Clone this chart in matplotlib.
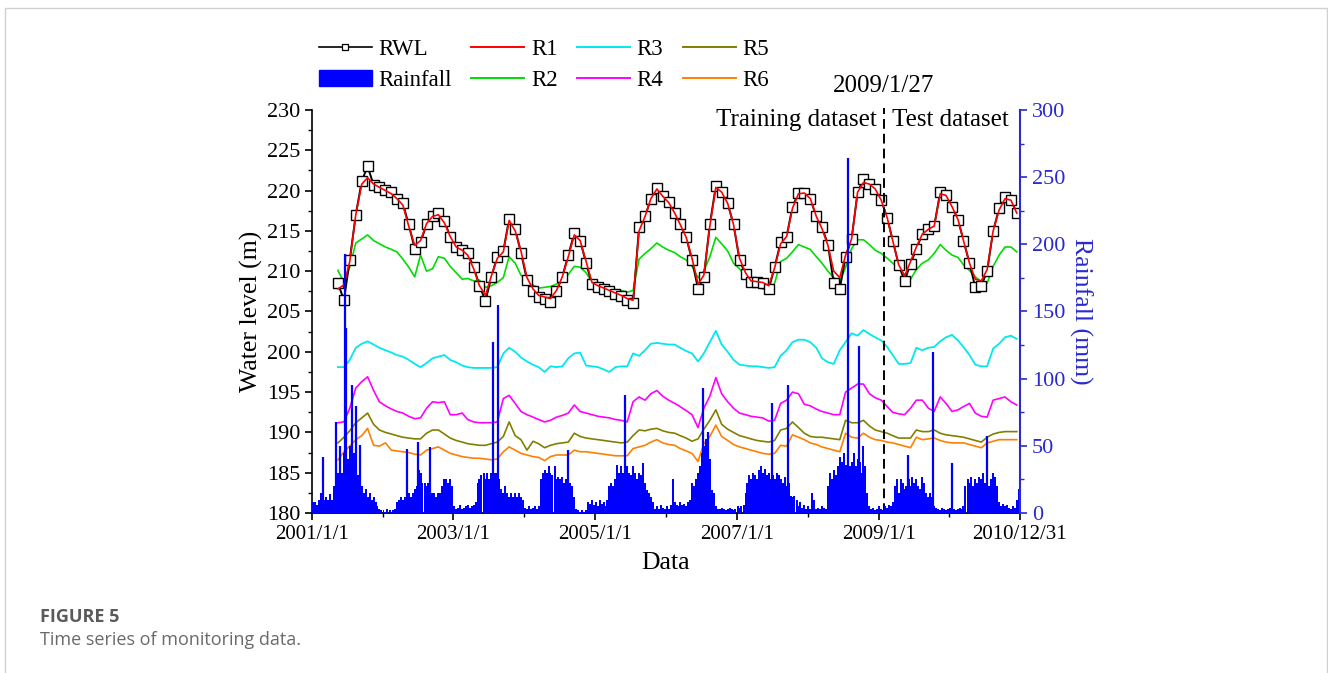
import numpy as np
import pandas as pd
import matplotlib
matplotlib.use("Agg")
import matplotlib.pyplot as plt
import matplotlib.dates as mdates
from matplotlib.ticker import MultipleLocator, FixedLocator
from matplotlib.lines import Line2D
from matplotlib.patches import Patch, Rectangle

# --- monthly water level series (May 2001 .. Dec 2010) ---
months = pd.date_range("2001-05-01", "2010-12-01", freq="MS") + pd.Timedelta(days=14)

rwl = [
    208.5, 206.4, 211.4, 217.0, 221.2, 223.0, 220.7, 220.4,
    220.1, 219.8, 219.0, 218.4, 215.8, 212.8, 213.6, 215.8, 216.9, 217.2, 216.2, 214.3,
    213.0, 212.6, 212.2, 210.5, 208.2, 206.3, 209.3, 211.8, 212.5, 216.5, 215.2, 212.3,
    208.9, 207.5, 206.8, 206.5, 206.2, 207.5, 209.3, 212.0, 214.7, 213.8, 211.0, 208.4,
    208.0, 207.8, 207.6, 207.2, 206.9, 206.4, 206.0, 215.5, 216.8, 219.0, 220.3, 219.3,
    218.6, 217.2, 215.8, 214.2, 211.4, 207.8, 209.3, 215.8, 220.6, 219.8, 218.4, 215.8,
    211.4, 209.6, 208.7, 208.7, 208.5, 207.8, 210.5, 213.6, 214.3, 218.0, 219.7, 219.7,
    219.0, 216.8, 215.5, 213.3, 208.5, 207.8, 211.8, 214.0, 219.8, 221.4, 220.8, 220.2,
    218.8, 216.6, 213.8, 210.8, 208.8, 210.9, 212.8, 214.6, 215.2, 215.6, 219.8, 219.4,
    218.0, 216.4, 213.8, 211.0, 208.0, 208.2, 210.0, 215.0, 217.8, 219.2, 218.8, 217.2,
]
r1 = [
    207.8, 208.3, 211.2, 217.0, 220.8, 221.6, 220.8, 220.4,
    220.0, 219.6, 219.0, 218.2, 215.6, 213.2, 213.8, 215.9, 216.8, 217.0, 216.0, 214.3,
    213.0, 212.6, 212.0, 210.3, 208.2, 207.0, 209.4, 211.6, 212.4, 216.3, 215.0, 212.5,
    209.2, 207.8, 207.0, 206.8, 206.6, 207.6, 209.3, 211.8, 214.5, 213.8, 211.2, 208.6,
    208.2, 207.9, 207.6, 207.3, 207.0, 206.6, 206.4, 215.0, 216.8, 219.0, 220.2, 219.3,
    218.5, 217.2, 215.8, 214.2, 211.6, 208.4, 209.5, 215.6, 220.4, 219.8, 218.4, 215.8,
    211.6, 209.8, 208.8, 208.7, 208.6, 208.2, 210.4, 213.4, 214.3, 217.8, 219.6, 219.7,
    219.0, 216.8, 215.3, 213.2, 210.0, 209.2, 212.0, 214.0, 219.8, 221.0, 220.8, 220.2,
    218.8, 216.6, 213.8, 210.8, 209.4, 211.2, 213.0, 214.6, 215.2, 215.6, 219.6, 219.4,
    218.0, 216.4, 213.8, 211.0, 209.0, 208.8, 210.2, 215.0, 217.6, 219.0, 218.8, 217.2,
]
r2 = [
    210.1, 208.6, 210.5, 213.5, 214.0, 214.5, 213.8, 213.4,
    213.0, 212.7, 212.4, 211.5, 210.5, 209.3, 212.0, 210.0, 210.3, 211.8, 211.6, 210.6,
    209.8, 209.0, 209.1, 208.8, 208.9, 208.0, 208.2, 208.6, 209.2, 211.8, 211.0, 209.5,
    208.9, 208.3, 207.9, 208.0, 208.1, 208.4, 208.8, 209.6, 210.6, 210.5, 209.8, 208.6,
    208.3, 208.0, 207.8, 207.7, 207.6, 207.4, 207.6, 211.5, 212.2, 212.8, 213.5, 213.0,
    212.6, 212.3, 211.8, 211.4, 210.6, 209.2, 210.0, 211.8, 214.2, 213.4, 212.5, 211.0,
    210.3, 209.4, 208.6, 208.0, 207.8, 207.6, 208.5, 211.2, 211.6, 212.4, 213.3, 213.0,
    212.7, 211.8, 211.0, 210.0, 209.2, 208.7, 210.5, 212.8, 213.9, 213.9, 213.3, 212.6,
    212.2, 211.6, 211.0, 210.4, 209.6, 209.0, 210.2, 211.0, 211.4, 212.2, 213.3, 212.6,
    212.0, 211.7, 210.8, 210.1, 209.3, 208.7, 208.5, 210.6, 212.0, 213.0, 213.0, 212.4,
]
r3 = [
    198.1, 198.1, 199.0, 200.5, 201.0, 201.3, 200.9, 200.5,
    200.2, 199.9, 199.6, 199.4, 199.0, 198.5, 198.1, 198.6, 199.2, 199.4, 199.6, 199.0,
    198.7, 198.3, 198.1, 198.0, 198.0, 198.0, 198.0, 198.1, 199.8, 200.5, 200.0, 199.3,
    198.8, 198.4, 198.1, 197.5, 198.2, 198.1, 198.2, 199.2, 199.8, 199.9, 198.3, 198.2,
    198.1, 197.8, 197.5, 198.1, 198.2, 198.2, 199.8, 199.5, 200.2, 201.0, 201.1, 201.0,
    200.9, 200.9, 200.5, 200.1, 199.8, 198.8, 199.8, 201.2, 202.6, 200.9, 200.0, 199.0,
    198.4, 198.3, 198.2, 198.2, 198.1, 198.0, 198.1, 199.5, 200.2, 201.2, 201.5, 201.5,
    201.2, 200.5, 199.2, 198.7, 198.5, 200.2, 201.2, 202.3, 202.0, 202.7, 202.2, 201.8,
    201.4, 200.6, 199.6, 198.5, 198.5, 198.6, 200.5, 200.2, 200.5, 200.6, 201.3, 201.8,
    202.1, 201.4, 200.6, 199.6, 198.4, 198.2, 198.2, 200.4, 201.0, 201.8, 202.0, 201.6,
]
r4 = [
    191.2, 191.3, 193.0, 195.5, 196.3, 196.9, 195.2, 193.8,
    193.3, 192.9, 192.6, 192.4, 192.0, 191.7, 191.8, 193.0, 193.8, 193.7, 193.8, 192.2,
    192.2, 192.4, 191.6, 191.3, 191.2, 191.2, 191.2, 191.3, 194.2, 194.6, 193.6, 192.6,
    192.2, 191.9, 191.6, 191.3, 191.5, 191.9, 192.1, 192.4, 193.4, 192.6, 192.4, 192.2,
    192.0, 191.9, 191.8, 191.6, 191.5, 191.3, 193.8, 194.4, 194.0, 194.8, 195.2, 194.5,
    194.0, 193.6, 193.2, 192.7, 192.2, 190.6, 193.0, 194.5, 196.8, 194.8, 193.8, 193.0,
    192.4, 192.2, 192.0, 191.9, 191.8, 191.4, 191.5, 193.6, 194.0, 195.0, 194.8, 193.5,
    193.3, 192.9, 192.6, 192.4, 192.2, 192.2, 195.0, 195.5, 196.0, 196.0, 194.8, 194.3,
    194.0, 193.2, 192.5, 192.3, 192.2, 193.0, 194.0, 194.0, 193.0, 192.6, 194.4, 193.6,
    192.6, 192.8, 193.2, 193.6, 192.4, 192.0, 191.9, 194.0, 194.2, 194.4, 193.8, 193.4,
]
r5 = [
    188.7, 189.4, 190.2, 191.2, 191.8, 192.4, 191.0, 190.3,
    190.0, 189.8, 189.6, 189.4, 189.3, 189.2, 189.2, 189.9, 190.3, 190.3, 189.8, 189.3,
    189.0, 188.8, 188.6, 188.5, 188.4, 188.4, 188.6, 188.8, 189.5, 191.3, 189.6, 189.1,
    187.8, 188.9, 188.6, 188.1, 188.4, 188.6, 188.7, 188.8, 189.9, 189.5, 189.3, 189.2,
    189.1, 189.0, 188.9, 188.8, 188.7, 188.8, 189.6, 190.3, 190.2, 190.4, 190.5, 190.2,
    190.0, 189.9, 189.6, 189.3, 188.9, 189.2, 190.4, 191.5, 192.8, 191.0, 190.4, 190.0,
    189.6, 189.4, 189.2, 189.0, 188.9, 188.8, 189.0, 190.3, 190.5, 191.3, 190.6, 189.9,
    189.5, 189.4, 189.4, 189.3, 189.2, 189.1, 191.5, 191.2, 191.2, 191.5, 190.8, 190.3,
    190.1, 189.9, 189.6, 189.3, 189.3, 189.3, 190.3, 190.1, 190.1, 190.3, 189.9, 189.7,
    189.6, 189.5, 189.4, 189.2, 189.0, 188.8, 189.4, 189.8, 190.0, 190.1, 190.1, 190.1,
]
r6 = [
    186.6, 187.6, 188.3, 189.1, 189.6, 190.5, 188.4, 188.3,
    188.7, 187.8, 187.7, 187.6, 187.5, 187.3, 187.2, 187.8, 188.0, 188.2, 187.8, 187.4,
    187.2, 187.0, 186.9, 186.8, 186.8, 186.7, 186.6, 186.7, 187.6, 188.2, 187.8, 187.4,
    187.2, 187.0, 186.9, 186.5, 187.0, 187.2, 187.2, 187.2, 187.8, 187.6, 187.6, 187.5,
    187.4, 187.3, 187.2, 187.1, 187.1, 187.1, 188.0, 188.2, 188.4, 188.8, 189.1, 188.7,
    188.5, 188.4, 188.0, 187.7, 187.4, 186.4, 188.6, 189.5, 190.9, 189.5, 189.0, 188.5,
    188.2, 188.0, 187.8, 187.6, 187.4, 187.3, 187.4, 188.4, 188.3, 189.7, 189.4, 189.1,
    188.7, 188.5, 188.2, 188.0, 187.8, 187.6, 189.9, 189.4, 189.3, 189.9, 189.4, 189.1,
    189.0, 188.8, 188.7, 188.5, 188.3, 188.1, 189.4, 189.1, 189.2, 189.3, 189.0, 188.8,
    188.7, 188.7, 188.7, 188.5, 188.3, 188.1, 188.7, 188.9, 189.1, 189.1, 189.1, 189.1,
]

# --- rainfall: ten-day envelope per year plus single storm days ---
rain_years = list(range(2001, 2011))
rain_2001 = [8, 8, 6, 10, 15, 15, 10, 12, 10, 14, 10, 20, 32, 30, 35, 30, 45, 50, 40, 50,
             38, 45, 40, 28, 40, 20, 15, 18, 12, 15, 10, 12, 8, 5, 3, 2]
rain_2002 = [2, 1, 3, 2, 1, 2, 3, 8, 10, 12, 10, 12, 15, 15, 12, 15, 18, 20, 32, 30,
             22, 22, 20, 22, 15, 15, 15, 12, 15, 15, 20, 25, 25, 22, 25, 20]
rain_2003 = [5, 3, 4, 6, 3, 4, 5, 6, 4, 5, 6, 8, 22, 25, 28, 30, 25, 30, 25, 30,
             32, 30, 30, 25, 18, 15, 20, 15, 12, 15, 12, 15, 12, 15, 12, 10]
rain_2004 = [4, 3, 5, 3, 4, 5, 3, 5, 25, 30, 32, 30, 35, 30, 28, 35, 25, 27, 25, 27,
             22, 25, 27, 22, 20, 12, 3, 2, 1, 2, 1, 2, 8, 7, 10, 6]
rain_2005 = [8, 5, 10, 7, 8, 5, 10, 20, 22, 20, 25, 36, 30, 35, 30, 40, 35, 30, 28, 35,
             30, 25, 30, 28, 37, 22, 17, 15, 12, 8, 3, 5, 3, 6, 4, 3]
rain_2006 = [5, 3, 6, 25, 8, 6, 5, 8, 6, 7, 5, 8, 10, 22, 20, 25, 30, 35, 45, 50,
             55, 45, 40, 17, 15, 5, 3, 3, 4, 3, 2, 3, 4, 3, 2, 3]
rain_2007 = [5, 4, 5, 6, 15, 22, 28, 25, 30, 28, 25, 32, 35, 30, 33, 28, 30, 25, 28, 25,
             30, 28, 25, 22, 27, 20, 22, 13, 12, 13, 10, 5, 8, 4, 6, 3]
rain_2008 = [5, 3, 15, 10, 3, 4, 3, 5, 4, 3, 20, 30, 25, 32, 28, 35, 42, 38, 45, 36,
             42, 35, 38, 45, 35, 40, 38, 30, 50, 35, 15, 5, 3, 4, 2, 3]
rain_2009 = [5, 3, 2, 5, 4, 6, 5, 8, 20, 25, 15, 25, 22, 18, 20, 25, 20, 27, 22, 25,
             20, 18, 27, 22, 15, 12, 15, 12, 5, 4, 3, 2, 4, 3, 2, 3]
rain_2010 = [4, 3, 3, 2, 3, 4, 3, 5, 20, 25, 22, 27, 20, 25, 22, 27, 25, 30, 22, 28,
             20, 25, 30, 27, 20, 8, 5, 7, 5, 6, 4, 3, 5, 4, 10, 18]

storm_dates = ["2001-02-26", "2001-05-04", "2001-05-24", "2001-06-19", "2001-06-27",
               "2001-07-25", "2001-08-15", "2001-09-05", "2002-05-05", "2002-07-01",
               "2002-08-31", "2003-07-22", "2003-08-17", "2004-08-12", "2005-06-03",
               "2006-07-10", "2006-08-05", "2007-07-01", "2007-09-22", "2008-07-27",
               "2008-09-22", "2009-06-01", "2009-10-08", "2010-01-14", "2010-07-14"]
storm_mm = [42, 68, 50, 193, 138, 95, 80, 51, 48, 53, 49, 127, 155, 47, 88,
            93, 60, 82, 95, 264, 124, 43, 120, 37, 57]

split_date = pd.Timestamp("2009-01-27")
xtick_dates = ["2001-01-01", "2003-01-01", "2005-01-01", "2007-01-01", "2009-01-01", "2010-12-31"]
xtick_labels = ["2001/1/1", "2003/1/1", "2005/1/1", "2007/1/1", "2009/1/1", "2010/12/31"]
xminor_dates = ["2002-01-01", "2004-01-01", "2006-01-01", "2008-01-01", "2010-01-01"]

BLUE = "#0000ff"
AXBLUE = "#2a2ad0"

plt.rcParams["font.family"] = ["Liberation Serif", "DejaVu Serif"]

fig = plt.figure(figsize=(13.28, 6.73), dpi=100)
ax = fig.add_axes([0.2349, 0.2377, 0.5331, 0.5989])
ax2 = ax.twinx()

# lines
ax.plot(months, r6, color="#ff8000", lw=1.2)
ax.plot(months, r5, color="#808000", lw=1.2)
ax.plot(months, r4, color="#ff00ff", lw=1.2)
ax.plot(months, r3, color="#00e8f0", lw=1.3)
ax.plot(months, r2, color="#00dd00", lw=1.2)
ax.plot(months, rwl, color="black", lw=1.4, marker="s", ms=6.5,
        mfc="white", mec="black", mew=1.0)
ax.plot(months, r1, color="#ff0000", lw=1.2)

# rainfall on the right axis
rain_all = np.concatenate([rain_2001, rain_2002, rain_2003, rain_2004, rain_2005,
                           rain_2006, rain_2007, rain_2008, rain_2009, rain_2010])
dekad_dates = [pd.Timestamp(y, m, d) for y in rain_years for m in range(1, 13) for d in (5, 15, 25)]
ax2.bar(mdates.date2num(dekad_dates), rain_all, width=10.3, color=BLUE, linewidth=0)
ax2.vlines(mdates.date2num(pd.to_datetime(storm_dates)), 0, storm_mm, color=BLUE, lw=1.6)

# axes limits and ticks
x0, x1 = mdates.date2num(pd.Timestamp("2001-01-01")), mdates.date2num(pd.Timestamp("2010-12-31"))
ax.set_xlim(x0, x1)
ax.set_ylim(180, 230)
ax2.set_ylim(0, 300)

ax.xaxis.set_major_locator(FixedLocator(mdates.date2num(pd.to_datetime(xtick_dates))))
ax.xaxis.set_minor_locator(FixedLocator(mdates.date2num(pd.to_datetime(xminor_dates))))
ax.set_xticklabels(xtick_labels)
ax.yaxis.set_major_locator(MultipleLocator(5))
ax.yaxis.set_minor_locator(MultipleLocator(2.5))
ax2.yaxis.set_major_locator(MultipleLocator(50))
ax2.yaxis.set_minor_locator(MultipleLocator(25))

ax.tick_params(axis="both", which="major", direction="out", length=5, width=1.2, labelsize=15)
ax.tick_params(axis="y", which="major", labelsize=16)
ax.tick_params(axis="both", which="minor", direction="out", length=3, width=1.0)
ax2.tick_params(axis="y", which="major", direction="out", length=5, width=1.2,
                labelsize=16, colors=AXBLUE)
ax2.tick_params(axis="y", which="minor", direction="out", length=3, width=1.0, colors=AXBLUE)

for s in ("top", "right"):
    ax.spines[s].set_visible(False)
for s in ("top", "left", "bottom"):
    ax2.spines[s].set_visible(False)
ax.spines["left"].set_linewidth(1.2)
ax.spines["bottom"].set_linewidth(1.3)
ax2.spines["right"].set_color(AXBLUE)
ax2.spines["right"].set_linewidth(1.5)

ax.set_ylabel("Water level (m)", fontsize=18.5, labelpad=3)
ax.set_xlabel("Data", fontsize=18.5, labelpad=6)
ax2.set_ylabel("Rainfall (mm)", fontsize=18.5, color=AXBLUE, rotation=-90, labelpad=20)

# training / test split
ax.axvline(mdates.date2num(split_date), ymin=0, ymax=1.005, color="black", lw=1.4,
           ls=(0, (5, 2.6)), clip_on=False, zorder=5)
trans = ax.get_xaxis_transform()
sx = mdates.date2num(split_date)
ax.annotate("2009/1/27", xy=(sx, 1.06), xycoords=trans, ha="center", va="center", fontsize=18)
ax.annotate("Training dataset", xy=(sx, 0.975), xycoords=trans, xytext=(-5, 0),
            textcoords="offset points", ha="right", va="center", fontsize=18)
ax.annotate("Test dataset", xy=(sx, 0.975), xycoords=trans, xytext=(6, 0),
            textcoords="offset points", ha="left", va="center", fontsize=18)

# legend above the plot
handles = [
    Line2D([], [], color="black", lw=1.2, marker="s", ms=4.5, mfc="white", mec="black", mew=0.9),
    Patch(facecolor=BLUE, edgecolor=BLUE),
    Line2D([], [], color="#ff0000", lw=1.4),
    Line2D([], [], color="#00dd00", lw=1.4),
    Line2D([], [], color="#00e8f0", lw=1.4),
    Line2D([], [], color="#ff00ff", lw=1.4),
    Line2D([], [], color="#808000", lw=1.4),
    Line2D([], [], color="#ff8000", lw=1.4),
]
labels = ["RWL", "Rainfall", "R1", "R2", "R3", "R4", "R5", "R6"]
fig.legend(handles, labels, ncol=4, loc="upper left", bbox_to_anchor=(0.2315, 0.959),
           frameon=False, fontsize=16.5, handlelength=2.3, handletextpad=0.3,
           columnspacing=0.85, labelspacing=0.45, borderpad=0)

# caption and frame
fig.text(0.030, 0.083, "FIGURE 5", fontsize=13, fontweight="bold", color="#5a5a5a",
         family=["Open Sans", "DejaVu Sans"], va="center")
fig.text(0.030, 0.049, "Time series of monitoring data.", fontsize=13, color="#6a6a6a",
         family=["Open Sans", "DejaVu Sans"], va="center")
fig.patches.append(Rectangle((0.004, -0.05), 0.995, 1.038, transform=fig.transFigure,
                             fill=False, edgecolor="#d0d0d0", lw=1.0))

fig.savefig("out.png", dpi=100)
